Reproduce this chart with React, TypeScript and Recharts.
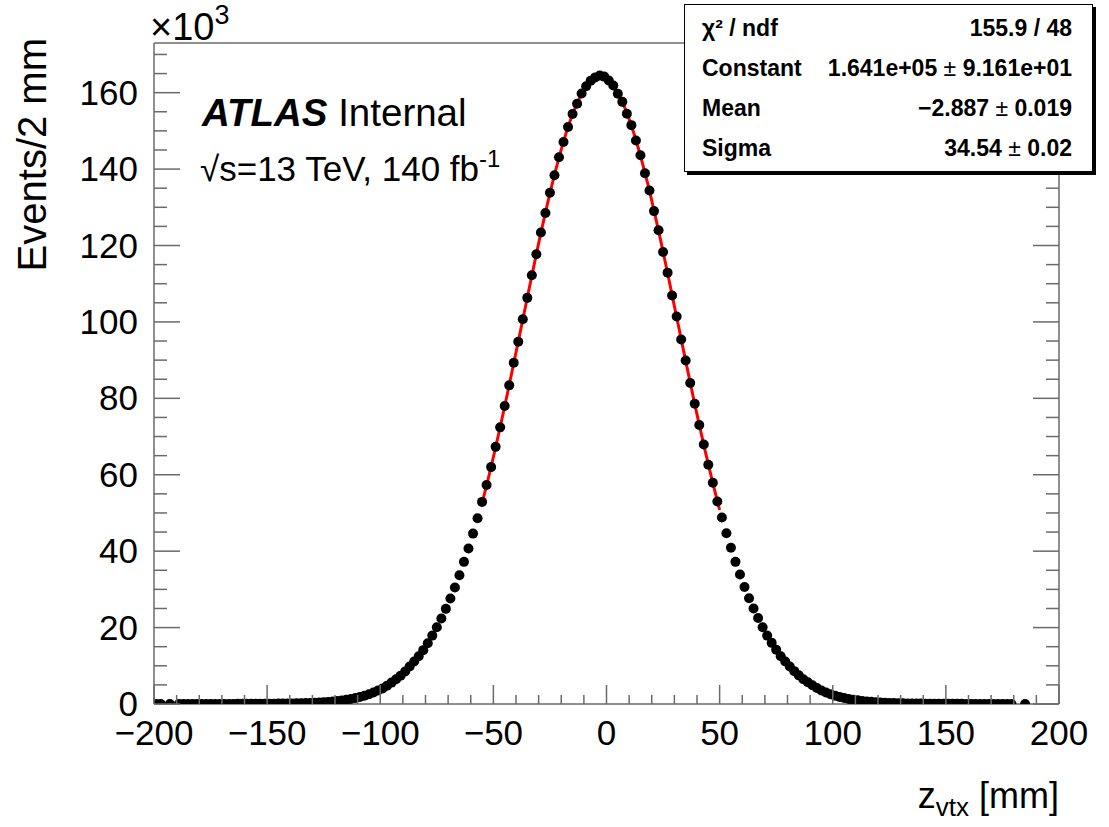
import { ComposedChart, Scatter, Line, XAxis, YAxis } from 'recharts';

// histogram: 2 mm bins from -200 to 200 mm, contents in units of 10^3 events (null = empty bin)
const Z_LOW = -200;
const BIN_WIDTH = 2;
const counts: (number | null)[] = [
  0.005, 0.005, null, 0.005, null, 0.01, 0.01, 0.01, 0.01, 0.01,
  0.015, 0.015, 0.02, 0.02, 0.02, 0.025, 0.03, 0.03, 0.035, 0.04,
  0.045, 0.05, 0.055, 0.06, 0.07, 0.08, 0.09, 0.1, 0.11, 0.13,
  0.15, 0.17, 0.2, 0.23, 0.27, 0.32, 0.39, 0.46, 0.54, 0.66,
  0.78, 0.93, 1.1, 1.31, 1.54, 1.83, 2.16, 2.55, 3.0, 3.51,
  4.08, 4.8, 5.6, 6.5, 7.4, 8.5, 9.8, 11.1, 12.5, 14.1,
  15.9, 17.9, 20.1, 22.4, 24.9, 27.6, 30.5, 33.7, 37.2, 40.7,
  44.6, 48.6, 52.9, 57.3, 62.0, 67.3, 72.4, 78.0, 83.4, 89.3,
  94.8, 100.7, 106.3, 112.2, 117.7, 123.4, 128.5, 133.8, 138.4, 143.1,
  147.1, 151.0, 154.4, 157.1, 159.8, 161.7, 163.1, 164.0, 164.5, 164.2,
  163.2, 161.9, 159.7, 157.6, 154.5, 151.5, 147.5, 143.6, 138.9, 134.4,
  129.0, 124.0, 118.3, 112.9, 106.9, 101.4, 95.4, 89.9, 84.0, 78.6,
  73.0, 67.9, 62.6, 57.9, 53.0, 48.8, 44.7, 40.9, 37.2, 33.9,
  30.6, 27.7, 25.0, 22.5, 20.1, 17.9, 16.0, 14.2, 12.5, 11.1,
  9.8, 8.6, 7.5, 6.5, 5.7, 4.9, 4.2, 3.55, 3.0, 2.56,
  2.19, 1.86, 1.56, 1.32, 1.12, 0.95, 0.8, 0.67, 0.56, 0.47,
  0.39, 0.33, 0.28, 0.24, 0.2, 0.17, 0.15, 0.13, 0.11, 0.1,
  0.09, 0.08, 0.07, 0.06, 0.055, 0.05, 0.045, 0.04, 0.035, 0.03,
  0.03, 0.025, 0.02, 0.02, 0.02, 0.015, 0.015, 0.01, 0.01, 0.01,
  null, null, 0.005, null, null, null, null, null, null, null,
];

// gaussian fit drawn over [-55, 50] mm
const fitZ = [
  -55, -53, -51, -49, -47, -45, -43, -41, -39, -37, -35, -33, -31, -29, -27, -25, -23, -21,
  -19, -17, -15, -13, -11, -9, -7, -5, -3, -1, 1, 3, 5, 7, 9, 11, 13, 15,
  17, 19, 21, 23, 25, 27, 29, 31, 33, 35, 37, 39, 41, 43, 45, 47, 49, 50,
];
const fitN = [
  52.6, 57.2, 62.1, 67.2, 72.5, 77.9, 83.5, 89.2, 94.9, 100.6, 106.4, 112.1, 117.8, 123.3, 128.6, 133.7, 138.5, 143.0,
  147.2, 151.0, 154.3, 157.2, 159.6, 161.6, 162.9, 163.8, 164.1, 163.9, 163.1, 161.7, 159.9, 157.5, 154.7, 151.4, 147.6, 143.5,
  139.0, 134.3, 129.1, 123.9, 118.4, 112.8, 107.0, 101.3, 95.5, 89.8, 84.1, 78.5, 73.1, 67.8, 62.7, 57.8, 53.1, 50.8,
];

const xTicks = [
  -200, -190, -180, -170, -160, -150, -140, -130, -120, -110, -100, -90, -80, -70, -60, -50, -40, -30, -20, -10,
  0, 10, 20, 30, 40, 50, 60, 70, 80, 90, 100, 110, 120, 130, 140, 150, 160, 170, 180, 190, 200,
];
const xLabels = [-200, -150, -100, -50, 0, 50, 100, 150, 200];
const yTicks = [
  0, 5, 10, 15, 20, 25, 30, 35, 40, 45, 50, 55, 60, 65, 70, 75, 80, 85, 90, 95, 100, 105, 110, 115, 120,
  125, 130, 135, 140, 145, 150, 155, 160, 165, 170,
];
const yLabels = [0, 20, 40, 60, 80, 100, 120, 140, 160];

const statRows = [
  { name: 'χ² / ndf', value: '155.9 / 48', err: '' },
  { name: 'Constant', value: '1.641e+05', err: '9.161e+01' },
  { name: 'Mean', value: '−2.887', err: '0.019' },
  { name: 'Sigma', value: '34.54', err: '0.02' },
];

const W = 1109;
const H = 827;
const FRAME = '#6a6a6a';
const FONT = '"Liberation Sans", Arial, Helvetica, sans-serif';

const points = counts
  .map((n, i) => ({ z: Z_LOW + BIN_WIDTH * (i + 0.5), n }))
  .filter((p) => p.n !== null);
const fit = fitZ.map((z, i) => ({ z, n: fitN[i] }));

const fmt = (v: number) => (v < 0 ? `−${-v}` : `${v}`);

// eslint-disable-next-line @typescript-eslint/no-explicit-any
const BottomTick = ({ x, y, payload }: any) => {
  const v = payload.value;
  const major = xLabels.includes(v);
  return (
    <g>
      <line x1={x} x2={x} y1={y} y2={y - (major ? 19 : 9)} stroke={FRAME} strokeWidth={1.5} />
      {major && (
        <text x={x} y={y + 41} textAnchor="middle" fontSize={35} fontFamily={FONT} fill="#000">
          {fmt(v)}
        </text>
      )}
    </g>
  );
};

// eslint-disable-next-line @typescript-eslint/no-explicit-any
const TopTick = ({ x, y, payload }: any) => {
  const major = xLabels.includes(payload.value);
  return <line x1={x} x2={x} y1={y} y2={y + (major ? 19 : 9)} stroke={FRAME} strokeWidth={1.5} />;
};

// eslint-disable-next-line @typescript-eslint/no-explicit-any
const LeftTick = ({ x, y, payload }: any) => {
  const v = payload.value;
  const major = yLabels.includes(v);
  return (
    <g>
      <line x1={x} x2={x + (major ? 26 : 13)} y1={y} y2={y} stroke={FRAME} strokeWidth={1.5} />
      {major && (
        <text x={x - 16} y={y + 12} textAnchor="end" fontSize={35} fontFamily={FONT} fill="#000">
          {v}
        </text>
      )}
    </g>
  );
};

// eslint-disable-next-line @typescript-eslint/no-explicit-any
const RightTick = ({ x, y, payload }: any) => {
  const major = yLabels.includes(payload.value);
  return <line x1={x} x2={x - (major ? 26 : 13)} y1={y} y2={y} stroke={FRAME} strokeWidth={1.5} />;
};

// eslint-disable-next-line @typescript-eslint/no-explicit-any
const Dot = ({ cx, cy }: any) => <circle cx={cx} cy={cy} r={5} fill="#000" />;

export default function App() {
  const axisLine = { stroke: FRAME, strokeWidth: 1.5 };
  return (
    <div style={{ position: 'absolute', left: 0, top: 0, width: W, height: H, background: '#fff' }}>
      <ComposedChart width={W} height={H} margin={{ top: 42, right: 49, bottom: 122, left: 153 }}>
        <XAxis
          dataKey="z" type="number" domain={[-200, 200]} ticks={xTicks} interval={0}
          height={1} tickSize={0} tickMargin={0} tickLine={false} axisLine={axisLine}
          tick={BottomTick} allowDataOverflow
        />
        <XAxis
          xAxisId="top" orientation="top" type="number" domain={[-200, 200]} ticks={xTicks} interval={0}
          height={1} tickSize={0} tickMargin={0} tickLine={false} axisLine={axisLine}
          tick={TopTick} allowDataOverflow
        />
        <YAxis
          dataKey="n" type="number" domain={[0, 173]} ticks={yTicks} interval={0}
          width={1} tickSize={0} tickMargin={0} tickLine={false} axisLine={axisLine}
          tick={LeftTick} allowDataOverflow
        />
        <YAxis
          yAxisId="right" orientation="right" type="number" domain={[0, 173]} ticks={yTicks} interval={0}
          width={1} tickSize={0} tickMargin={0} tickLine={false} axisLine={axisLine}
          tick={RightTick} allowDataOverflow
        />
        <Scatter data={points} dataKey="n" shape={Dot} isAnimationActive={false} />
        <Line
          data={fit} dataKey="n" type="monotone" stroke="#ff0000" strokeWidth={3}
          dot={false} activeDot={false} isAnimationActive={false}
        />
      </ComposedChart>

      <svg width={W} height={H} style={{ position: 'absolute', left: 0, top: 0, pointerEvents: 'none' }}>
        <g fontFamily={FONT} fill="#000">
          {/* exponent of the y axis */}
          <text x={150} y={40} fontSize={38}>
            ×10<tspan fontSize={27} dy={-16}>3</tspan>
          </text>

          {/* axis titles */}
          <text x={46} y={38} fontSize={40} textAnchor="end" transform="rotate(-90 46 38)">
            Events/2 mm
          </text>
          <text x={1059} y={808} fontSize={36} textAnchor="end">
            z<tspan fontSize={26} dy={8}>vtx</tspan>
            <tspan dy={-8}> [mm]</tspan>
          </text>

          {/* labels */}
          <text x={202} y={126} fontSize={38.5}>
            <tspan fontWeight="bold" fontStyle="italic">ATLAS</tspan> Internal
          </text>
          <text x={200} y={181} fontSize={35}>
            √s=13 TeV, 140 fb<tspan fontSize={24} dy={-14}>-1</tspan>
          </text>

          {/* fit statistics box */}
          <rect x={687} y={7} width={409} height={168} fill="#000" />
          <rect x={684.5} y={4.5} width={408} height={167} fill="#fff" stroke="#000" strokeWidth={1} />
          {statRows.map((r, i) => (
            <g key={r.name} fontSize={23}>
              <text x={702} y={36 + 40 * i} fontWeight="bold">
                {r.name}
              </text>
              <text x={1072} y={36 + 40 * i} textAnchor="end" fontWeight="bold">
                {r.value}
                {r.err && (
                  <>
                    <tspan fontWeight="normal"> ± </tspan>
                    {r.err}
                  </>
                )}
              </text>
            </g>
          ))}
        </g>
      </svg>
    </div>
  );
}
